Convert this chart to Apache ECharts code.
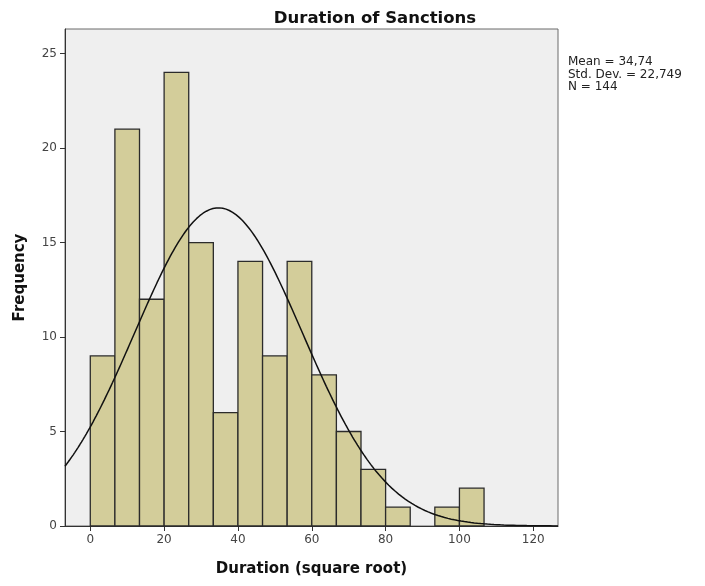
<!DOCTYPE html>
<html>
<head>
<meta charset="utf-8">
<style>
  html, body { margin: 0; padding: 0; background: #fff; }
  #main { width: 705px; height: 586px; }
</style>
<script src="https://cdn.jsdelivr.net/npm/echarts@6/dist/echarts.min.js"></script>
</head>
<body>
<div id="main"></div>
<script>
// histogram data
const binStart = 0
const binWidth = 20 / 3
const counts = [9, 21, 12, 24, 15, 6, 14, 9, 14, 8, 5, 3, 1, 0, 1, 2]
const xTicks = [0, 20, 40, 60, 80, 100, 120]
const yTicks = [0, 5, 10, 15, 20, 25]
// summary shown at the right
const statMean = 34.74
const statSd = 22.749
const statN = 144
const statLines = ['Mean = 34,74', 'Std. Dev. = 22,749', 'N = 144']

const xMin = -6.85
const xMax = 126.7

// bins => [left, right, count]
const bins = counts.map((c, i) => [binStart + i * binWidth, binStart + (i + 1) * binWidth, c])

// fitted normal curve, scaled to the histogram
const curve = []
for (let k = 0; k <= 300; k++) {
  const x = xMin + (xMax - xMin) * k / 300
  const z = (x - statMean) / statSd
  const y = statN * binWidth / (statSd * Math.sqrt(2 * Math.PI)) * Math.exp(-0.5 * z * z)
  curve.push([x, y])
}

const myChart = echarts.init(document.querySelector('#main'))
const font = 'DejaVu Sans'
const option = {
  animation: false,
  grid: {
    left: 65,
    top: 29,
    right: 147,
    bottom: 60,
    show: true,
    backgroundColor: '#efefef',
    borderColor: '#6a6a6a',
    borderWidth: 1
  },
  xAxis: {
    type: 'value',
    min: xMin,
    max: xMax,
    name: 'Duration (square root)',
    nameLocation: 'middle',
    nameGap: 36,
    nameTextStyle: { fontFamily: font, fontWeight: 'bold', fontSize: 15, color: '#111' },
    axisLine: { onZero: false, lineStyle: { color: '#333', width: 1 } },
    axisTick: { customValues: xTicks, length: 5, lineStyle: { color: '#333' } },
    axisLabel: { customValues: xTicks, fontFamily: font, fontSize: 12, color: '#444', margin: 8 },
    splitLine: { show: false }
  },
  yAxis: {
    type: 'value',
    min: 0,
    max: 26.3,
    name: 'Frequency',
    nameLocation: 'middle',
    nameGap: 37,
    nameTextStyle: { fontFamily: font, fontWeight: 'bold', fontSize: 15, color: '#111' },
    axisLine: { show: true, onZero: false, lineStyle: { color: '#333', width: 1 } },
    axisTick: { show: true, customValues: yTicks, length: 5, lineStyle: { color: '#333' } },
    axisLabel: { customValues: yTicks, fontFamily: font, fontSize: 12, color: '#444', margin: 8 },
    splitLine: { show: false }
  },
  title: {
    text: 'Duration of Sanctions',
    left: 370,
    top: 5,
    textAlign: 'center',
    textStyle: { fontFamily: font, fontWeight: 'bold', fontSize: 16.5, color: '#111' }
  },
  graphic: [{
    type: 'text',
    left: 568,
    top: 56,
    style: {
      text: statLines.join('\n'),
      font: '12px "DejaVu Sans"',
      lineHeight: 12.5,
      fill: '#222'
    }
  }],
  series: [
    {
      type: 'custom',
      data: bins,
      encode: { x: [0, 1], y: 2 },
      renderItem: (params, api) => {
        if (api.value(2) === 0) return
        const p0 = api.coord([api.value(0), api.value(2)])
        const p1 = api.coord([api.value(1), 0])
        return {
          type: 'rect',
          shape: { x: p0[0], y: p0[1], width: p1[0] - p0[0], height: p1[1] - p0[1] },
          style: { fill: '#d3cd9a', stroke: '#2b2b2b', lineWidth: 1.3 }
        }
      },
      z: 2
    },
    {
      type: 'line',
      data: curve,
      showSymbol: false,
      smooth: false,
      clip: true,
      lineStyle: { color: '#111', width: 1.5 },
      z: 3
    }
  ]
}
myChart.setOption(option)
</script>
</body>
</html>
